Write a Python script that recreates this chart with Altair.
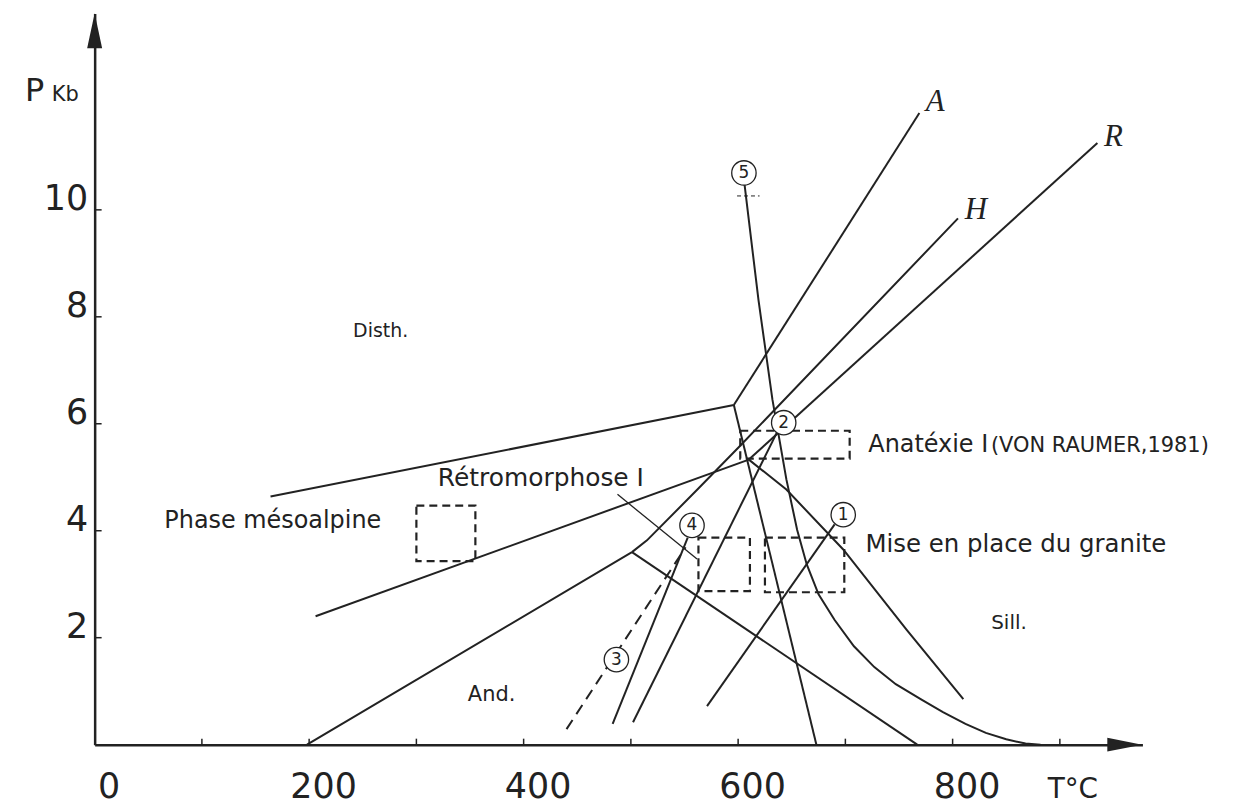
import altair as alt
import pandas as pd

# ---------------- axis values ----------------
x_label_values = [0, 200, 400, 600, 800]
y_label_values = [2, 4, 6, 8, 10]
x_tick_values = [100, 200, 300, 400, 500, 600, 700, 800, 900]
y_tick_values = [2, 4, 6, 8, 10]

# ---------------- curves (T in °C, P in kb) ----------------
A_ky_and_T = [164, 596]
A_ky_and_P = [4.64, 6.35]
A_ky_sill_T = [596, 769]
A_ky_sill_P = [6.35, 11.81]
A_and_sill_T = [596, 673]
A_and_sill_P = [6.35, 0.0]

H_ky_and_T = [198, 501]
H_ky_and_P = [0.0, 3.60]
H_ky_sill_T = [501, 515, 562, 601, 805]
H_ky_sill_P = [3.60, 3.82, 4.77, 5.57, 9.84]
H_and_sill_T = [501, 767]
H_and_sill_P = [3.60, 0.0]

R_ky_and_T = [206, 610]
R_ky_and_P = [2.40, 5.33]
R_ky_sill_T = [610, 935]
R_ky_sill_P = [5.33, 11.25]
R_and_sill_T = [610, 645, 698, 757, 810]
R_and_sill_P = [5.33, 4.77, 3.65, 2.15, 0.85]

c5_T = [606, 619, 632, 645, 655, 664, 675, 690, 708, 727, 747, 771, 791, 812, 831, 850, 868, 882]
c5_P = [10.47, 8.31, 6.45, 4.96, 4.02, 3.37, 2.81, 2.33, 1.84, 1.45, 1.13, 0.84, 0.61, 0.39, 0.22, 0.10, 0.02, 0.0]

c1_T = [571, 690]
c1_P = [0.72, 4.12]
c2_T = [502, 636]
c2_P = [0.42, 5.83]
c4_T = [483, 553]
c4_P = [0.39, 3.87]

c3_T = [440, 551]          # dashed
c3_P = [0.29, 3.69]
leader_T = [487.5, 561.7]  # Rétromorphose pointer
leader_P = [4.68, 3.47]
mark5_T = [599, 620]       # small dashed mark under (5)
mark5_P = [10.26, 10.26]

# ---------------- dashed boxes ----------------
box_T1 = [300, 602, 563, 625]
box_T2 = [355, 704, 611, 699]
box_P1 = [3.43, 5.35, 2.87, 2.85]
box_P2 = [4.47, 5.87, 3.87, 3.87]

# ---------------- circled numbers ----------------
circ_txt = ["1", "2", "3", "4", "5"]
circ_T = [698, 642.5, 486.5, 557, 605.4]
circ_P = [4.30, 6.02, 1.59, 4.10, 10.69]

# ---------------- annotations ----------------
ann_txt = ["Disth.", "And.", "Sill.", "Phase mésoalpine", "Rétromorphose I",
           "Anatéxie I", "(VON RAUMER,1981)", "Mise en place du granite", "T°C", "P", "Kb"]
ann_T = [241, 348, 836, 65, 320, 721.4, 835.7, 718.7, 888.6, -65, -40]
ann_P = [7.62, 0.82, 2.16, 4.06, 4.84, 5.48, 5.48, 3.60, -1.0, 12.03, 12.03]
ann_fs = [19, 21, 20, 24, 25, 24, 21, 24.5, 28, 32, 21]

curve_lab = ["A", "H", "R"]
curve_lab_T = [783.7, 821.7, 949.9]
curve_lab_P = [12.02, 9.99, 11.36]

INK = "#222222"

# ---------------- tables ----------------
def to_rows(sets):
    rows = []
    for name, (Ts, Ps) in sets.items():
        for i, (t, p) in enumerate(zip(Ts, Ps)):
            rows.append({"name": name, "i": i, "T": t, "P": p})
    return pd.DataFrame(rows)

solid_df = to_rows({
    "A_ky_and": (A_ky_and_T, A_ky_and_P),
    "A_ky_sill": (A_ky_sill_T, A_ky_sill_P),
    "A_and_sill": (A_and_sill_T, A_and_sill_P),
    "H_ky_and": (H_ky_and_T, H_ky_and_P),
    "H_ky_sill": (H_ky_sill_T, H_ky_sill_P),
    "H_and_sill": (H_and_sill_T, H_and_sill_P),
    "R_ky_and": (R_ky_and_T, R_ky_and_P),
    "R_ky_sill": (R_ky_sill_T, R_ky_sill_P),
    "R_and_sill": (R_and_sill_T, R_and_sill_P),
    "c5": (c5_T, c5_P),
    "c1": (c1_T, c1_P),
    "c2": (c2_T, c2_P),
    "c4": (c4_T, c4_P),
})
dash_df = to_rows({"c3": (c3_T, c3_P)})
leader_df = to_rows({"leader": (leader_T, leader_P)})
mark5_df = to_rows({"m5": (mark5_T, mark5_P)})
box_df = pd.DataFrame({"T1": box_T1, "T2": box_T2, "P1": box_P1, "P2": box_P2})
circ_df = pd.DataFrame({"T": circ_T, "P": circ_P, "txt": circ_txt})
ann_df = pd.DataFrame({"T": ann_T, "P": ann_P, "txt": ann_txt, "fs": ann_fs})
lab_df = pd.DataFrame({"T": curve_lab_T, "P": curve_lab_P, "txt": curve_lab})
xt_df = pd.DataFrame({"T": x_tick_values, "P": [0] * len(x_tick_values)})
yt_df = pd.DataFrame({"T": [0] * len(y_tick_values), "P": y_tick_values})
xarrow_df = pd.DataFrame({"T": [960.5], "P": [0]})
yarrow_df = pd.DataFrame({"T": [0], "P": [13.35]})

# ---------------- scales / axes ----------------
xs = alt.Scale(domain=[0, 977], nice=False, zero=False)
ys = alt.Scale(domain=[0, 13.67], nice=False, zero=False)
xaxis = alt.Axis(values=x_label_values, title=None, grid=False, tickSize=0,
                 labelPadding=53, labelOffset=14, labelFontSize=35,
                 labelFont="DejaVu Sans", labelColor=INK, domainColor=INK,
                 domainWidth=2.5, labelFlush=False, labelOverlap=False,
                 labelBaseline="alphabetic")
yaxis = alt.Axis(values=y_label_values, title=None, grid=False, tickSize=0,
                 labelPadding=7, labelFontSize=35, labelFont="DejaVu Sans",
                 labelColor=INK, domainColor=INK, domainWidth=2.5,
                 labelBaseline="alphabetic", labelAlign="right",
                 labelFlush=False, labelOverlap=False)


def X(f="T"):
    return alt.X(f"{f}:Q", scale=xs, axis=xaxis)


def Y(f="P"):
    return alt.Y(f"{f}:Q", scale=ys, axis=yaxis)


solid = alt.Chart(solid_df).mark_line(color=INK, strokeWidth=2).encode(
    x=X(), y=Y(), detail="name:N", order="i:Q")
dashed = alt.Chart(dash_df).mark_line(color=INK, strokeWidth=2, strokeDash=[11, 7]).encode(
    x=X(), y=Y(), detail="name:N", order="i:Q")
leader = alt.Chart(leader_df).mark_line(color=INK, strokeWidth=1.3).encode(
    x=X(), y=Y(), order="i:Q")
mark5 = alt.Chart(mark5_df).mark_line(color=INK, strokeWidth=1, strokeDash=[4, 3]).encode(
    x=X(), y=Y(), order="i:Q")
boxes = alt.Chart(box_df).mark_rect(fillOpacity=0, stroke=INK, strokeWidth=2.2,
                                    strokeDash=[8, 5]).encode(
    x=X("T1"), x2="T2:Q", y=Y("P1"), y2="P2:Q")
circles = alt.Chart(circ_df).mark_point(shape="circle", filled=True, fill="white",
                                        fillOpacity=1, stroke=INK, strokeWidth=1.3,
                                        size=600, opacity=1).encode(x=X(), y=Y())
circ_text = alt.Chart(circ_df).mark_text(font="DejaVu Sans", fontSize=17, color=INK,
                                         align="center", baseline="middle").encode(
    x=X(), y=Y(), text="txt:N")
ann = alt.Chart(ann_df).mark_text(font="DejaVu Sans", color=INK, align="left",
                                  baseline="alphabetic").encode(
    x=X(), y=Y(), text="txt:N", size=alt.Size("fs:Q", scale=None, legend=None))
labs = alt.Chart(lab_df).mark_text(font="Liberation Serif", fontStyle="italic",
                                   fontSize=31, color=INK, align="center",
                                   baseline="middle").encode(x=X(), y=Y(), text="txt:N")
xticks = alt.Chart(xt_df).mark_point(shape="M0,0L0,-1", filled=False, stroke=INK,
                                     strokeWidth=1.5, size=144, opacity=1).encode(x=X(), y=Y())
yticks = alt.Chart(yt_df).mark_point(shape="M0,0L1,0", filled=False, stroke=INK,
                                     strokeWidth=1.5, size=196, opacity=1).encode(x=X(), y=Y())
xarrow = alt.Chart(xarrow_df).mark_point(shape="M-1,-0.4L1,0L-1,0.4Z", filled=True,
                                         color=INK, size=1225, opacity=1).encode(x=X(), y=Y())
yarrow = alt.Chart(yarrow_df).mark_point(shape="M-0.43,1L0,-1L0.43,1Z", filled=True,
                                         color=INK, size=1225, opacity=1).encode(x=X(), y=Y())

chart = alt.layer(
    solid, dashed, leader, mark5, boxes, circles, circ_text, ann, labs,
    xticks, yticks, xarrow, yarrow
).properties(
    width=1052, height=734,
    padding={"left": 87, "top": 4, "right": 110, "bottom": 63},
    autosize=alt.AutoSizeParams(type="none"),
    background="white",
).configure_view(stroke=None)

chart.save("out.html", embed_options={"renderer": "svg", "actions": False})
